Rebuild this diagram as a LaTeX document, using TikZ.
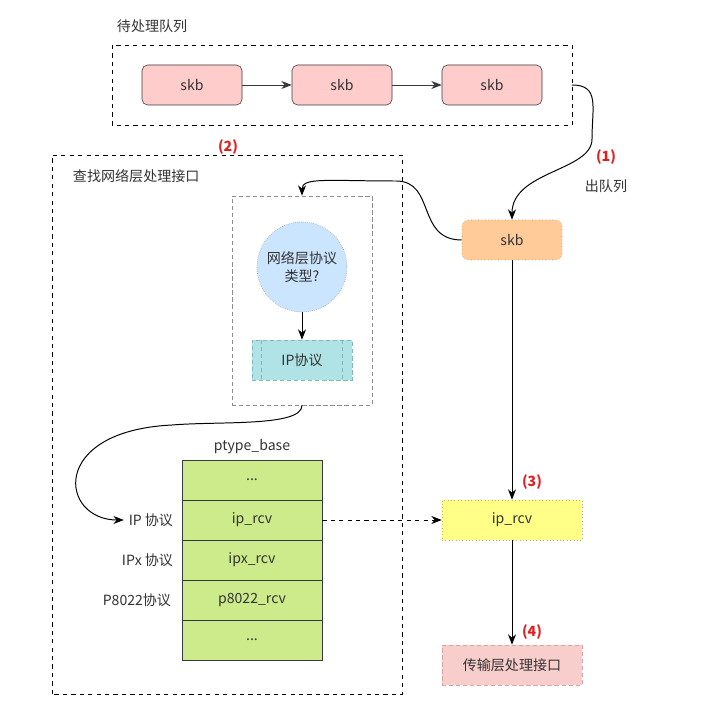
\documentclass[tikz,border=0pt]{standalone}
\usepackage{fontspec}
\setmainfont{Noto Sans CJK SC}
\usetikzlibrary{arrows.meta, positioning, calc}
\definecolor{skbpink}{HTML}{FFCCCC}
\definecolor{skborange}{HTML}{FFCC99}
\definecolor{orangeline}{HTML}{B98A55}
\definecolor{darkline}{HTML}{36393D}
\definecolor{bubble}{HTML}{CCE5FF}
\definecolor{teal}{HTML}{B0E3E6}
\definecolor{tealline}{HTML}{7FB7BA}
\definecolor{tblgreen}{HTML}{CDEB8B}
\definecolor{rcvyellow}{HTML}{FFFF88}
\definecolor{yellowline}{HTML}{C9AE55}
\definecolor{transpink}{HTML}{F8CECC}
\definecolor{pinkline}{HTML}{D9A3A0}
\definecolor{stepred}{HTML}{E0201E}

\begin{document}
\begin{tikzpicture}[
  >={Stealth[length=2.6mm, width=2mm]},
  every node/.style={text=black!80, font=\fontsize{10pt}{13pt}\selectfont},
  skbbox/.style={rounded corners=4pt, draw=darkline, fill=skbpink, minimum width=2.5cm, minimum height=1cm},
  rowbox/.style={draw=darkline, fill=tblgreen, minimum width=3.5cm, minimum height=1cm},
  stepnum/.style={text=stepred, font=\fontsize{10pt}{12pt}\selectfont\bfseries},
  flow/.style={draw=black, line width=0.7pt, ->},
]

% Canvas
\useasboundingbox (0,0) rectangle (17.7,17.575);
\fill[white] (0,0) rectangle (17.7,17.575);

% Pending queue
\node[anchor=west] (qtitle) at (2.8,16.925) {待处理队列};
\draw[dashed, line width=0.6pt] (2.8,14.45) rectangle (14.3,16.45);
\coordinate (qout) at (14.3,15.45);

\node[skbbox] (skb1) at (4.8,15.45) {skb};
\node[skbbox] (skb2) at (8.55,15.45) {skb};
\node[skbbox] (skb3) at (12.3,15.45) {skb};

\draw[draw=darkline, line width=0.6pt, ->] (skb1.east) -- (skb2.west);
\draw[draw=darkline, line width=0.6pt, ->] (skb2.east) -- (skb3.west);

% Dequeued skb
\node[rounded corners=4pt, draw=orangeline, dotted, fill=skborange, minimum width=2.5cm, minimum height=1cm] (deq) at (12.8,11.575) {skb};

\draw[flow] (qout) .. controls (15.0,15.45) and (14.8,14.9) .. (14.8,14.1)
  .. controls (14.8,13.3) and (12.8,13.3) .. (deq.north);
\node[stepnum] (s1) at (15.15,13.65) {(1)};
\node (deqlab) at (15.15,12.925) {出队列};

% Lookup of the network layer handler
\draw[dashed, line width=0.6pt] (1.3,0.225) rectangle (10.05,13.7);
\node[stepnum] (s2) at (5.7,13.9) {(2)};
\node[anchor=west] (lktitle) at (1.7,13.175) {查找网络层处理接口};

\node[draw=black!45, densely dashed, minimum width=3.5cm, minimum height=5.225cm] (inner) at (7.55,10.0625) {};
\node[circle, draw=black!45, densely dotted, fill=bubble, minimum size=2.25cm, inner sep=0pt, align=center] (proto) at (7.55,10.9) {网络层协议\\类型?};
\node[draw=tealline, densely dashed, fill=teal, minimum width=2.5cm, minimum height=1cm] (ipproto) at (7.55,8.575) {IP协议};
\draw[tealline, densely dashed] ([xshift=0.25cm]ipproto.north west) -- ([xshift=0.25cm]ipproto.south west);
\draw[tealline, densely dashed] ([xshift=-0.25cm]ipproto.north east) -- ([xshift=-0.25cm]ipproto.south east);

\draw[flow] (proto.south) -- (ipproto.north);
\draw[flow] (deq.west) .. controls (10.4,11.575) and (10.9,13.05) .. (9.9,13.05)
  .. controls (8.2,13.05) and (7.55,13.15) .. (inner.north);

% ptype_base table
\node (tbltitle) at (6.3,6.4) {ptype\_base};
\node[rowbox] (r0) at (6.3,5.575) {...};
\node[rowbox] (r1) at (6.3,4.575) {ip\_rcv};
\node[rowbox] (r2) at (6.3,3.575) {ipx\_rcv};
\node[rowbox] (r3) at (6.3,2.575) {p8022\_rcv};
\node[rowbox] (r4) at (6.3,1.575) {...};

\node[anchor=east] (iplab) at (4.45,4.575) {IP 协议};
\node[anchor=east] (ipxlab) at (4.45,3.575) {IPx 协议};
\node[anchor=east] (p8022lab) at (4.4,2.575) {P8022协议};

\draw[flow] (inner.south) .. controls (7.55,6.9) and (5.5,7.05) .. (4.3,6.95)
  .. controls (1.2,6.8) and (1.5,4.575) .. (iplab.west);

% Receive path
\node[draw=yellowline, dotted, fill=rcvyellow, minimum width=3.5cm, minimum height=1cm] (iprcv) at (12.8,4.575) {ip\_rcv};
\node[draw=pinkline, densely dashed, fill=transpink, minimum width=3.5cm, minimum height=1cm] (transport) at (12.8,0.95) {传输层处理接口};

\draw[draw=black, line width=0.6pt, dashed, ->] (r1.east) -- (iprcv.west);
\draw[flow] (deq.south) -- (iprcv.north);
\draw[flow] (iprcv.south) -- (transport.north);
\node[stepnum] (s3) at (13.3,5.525) {(3)};
\node[stepnum] (s4) at (13.3,1.775) {(4)};

\end{tikzpicture}
\end{document}
